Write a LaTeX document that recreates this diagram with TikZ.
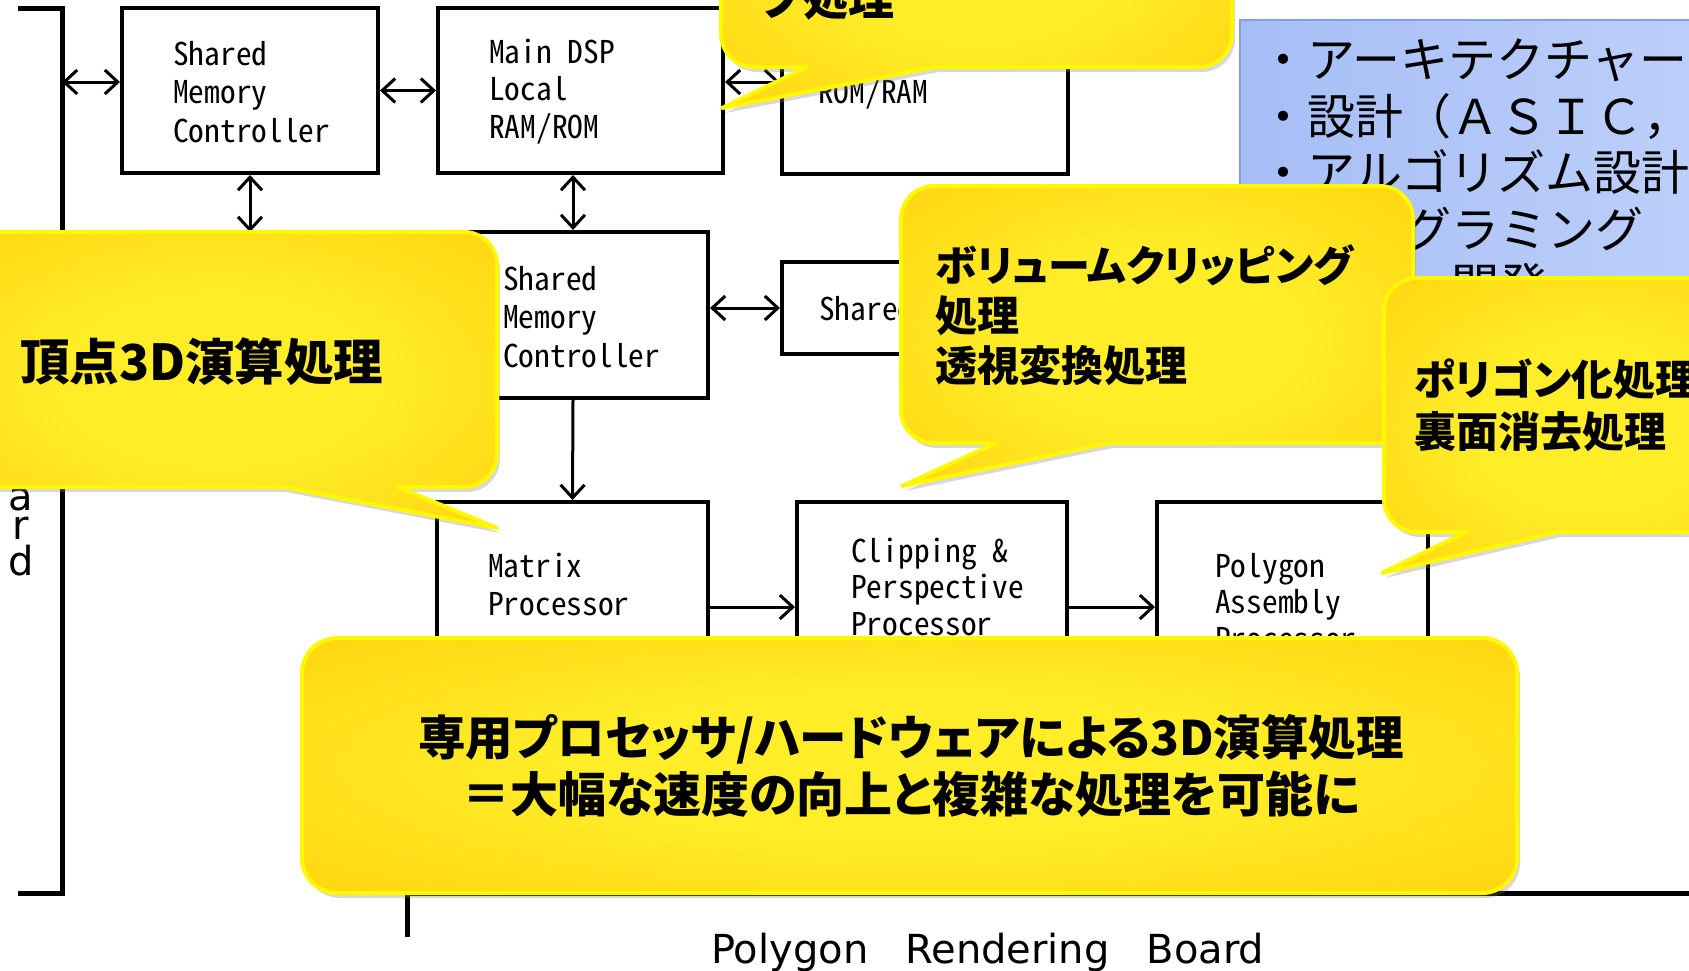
\documentclass[tikz,border=0pt]{standalone}
\usepackage{fontspec}
\usetikzlibrary{arrows.meta,shadows}
\newfontfamily\jpcall[RawFeature=+palt]{Noto Sans CJK JP}
\newfontfamily\jpreg{Noto Sans CJK JP}
\IfFontExistsTF{Noto Sans Mono CJK JP}{\newfontfamily\boxfont{Noto Sans Mono CJK JP}}{\newfontfamily\boxfont[FakeStretch=0.83]{DejaVu Sans Mono}}
\newfontfamily\latinsans{DejaVu Sans}
\definecolor{cIn}{RGB}{255,237,40}
\definecolor{cOut}{RGB}{255,198,0}
\definecolor{cEdge}{RGB}{255,248,0}
\definecolor{blueL}{RGB}{166,190,246}
\definecolor{blueR}{RGB}{192,210,251}
\definecolor{blueEdge}{RGB}{130,160,225}
\pgfdeclareradialshading{callshade}{\pgfpoint{0bp}{0bp}}{color(0bp)=(cIn); color(14bp)=(cIn); color(50bp)=(cOut); color(75bp)=(cOut)}
\tikzset{
  blk/.style={draw=black, line width=4pt, fill=white, inner sep=0pt},
  tipbarb/.tip={Straight Barb[length=13pt,width=24pt,line width=3pt]},
  arr/.style={line width=3pt, -tipbarb},
  darr/.style={line width=3pt, tipbarb-tipbarb},
  brk/.style={line width=5pt},
  callout/.style={draw=cEdge, line width=4pt, line join=round, shading=callshade,
    drop shadow={shadow xshift=3pt, shadow yshift=-5pt, opacity=0.3}},
  btxt/.style={font=\boxfont\fontsize{31.4}{38}\selectfont, anchor=base west, inner sep=0pt},
  ctxt/.style={font=\jpcall\bfseries\fontsize{42}{50}\selectfont, anchor=base west, inner sep=0pt},
  bltxt/.style={font=\jpreg\fontsize{48}{56}\selectfont, anchor=base west, inner sep=0pt},
  ltxt/.style={font=\latinsans\fontsize{40}{48}\selectfont, inner sep=0pt},
}
\newcommand\calloutshape[8]{%
  \path[callout] (#1+33,#2) -- (#3-33,#2) arc[start angle=-90,end angle=0,radius=33]
    -- (#3,#4-33) arc[start angle=0,end angle=90,radius=33]
    -- (#5,#4) -- (#6,#7) -- (#8,#4)
    -- (#1+33,#4) arc[start angle=90,end angle=180,radius=33]
    -- (#1,#2+33) arc[start angle=180,end angle=270,radius=33] -- cycle;}
\begin{document}
\begin{tikzpicture}[x=1pt,y=-1pt]
\fill[white] (0,0) rectangle (1689,970);
\useasboundingbox (0,0) rectangle (1689,970);

% brackets
\draw[brk] (18,8) -- (62,8) -- (62,893) -- (18,893);
\draw[brk] (407,937) -- (407,893) -- (1720,893);

% boxes
\node[blk, minimum width=256pt, minimum height=165pt] (smc1) at (250,90.5) {};
\node[blk, minimum width=285pt, minimum height=165pt] (dsp) at (580.5,90.5) {};
\node[blk, minimum width=286pt, minimum height=166pt] (rom) at (925,91) {};
\node[blk, minimum width=270pt, minimum height=166pt] (smc2) at (573,315) {};
\node[blk, minimum width=218pt, minimum height=92pt] (share) at (891,308) {};
\node[blk, minimum width=271pt, minimum height=218pt] (mat) at (572.5,611) {};
\node[blk, minimum width=270pt, minimum height=218pt] (clip) at (932,611) {};
\node[blk, minimum width=271pt, minimum height=218pt] (poly) at (1292.5,611) {};

% connectors
\coordinate (lb) at (62,82);
\coordinate (r3) at (0,82);
\coordinate (hid) at (250,232);
\coordinate (rowc) at (0,607);
\draw[darr] (lb) -- (smc1.west |- lb);
\draw[darr] (smc1.east) -- (dsp.east -| dsp.west);
\draw[darr] (dsp.east |- r3) -- (rom.west |- r3);
\draw[darr] (smc1.south) -- (hid);
\draw[darr] (dsp.south -| smc2.north) -- (smc2.north);
\draw[darr] (smc2.east |- share.west) -- (share.west);
\draw[arr] (smc2.south) -- (mat.north);
\draw[arr] (mat.east |- rowc) -- (clip.west |- rowc);
\draw[arr] (clip.east |- rowc) -- (poly.west |- rowc);

% box texts
\node[btxt] (t1a) at (173,65) {Shared};
\node[btxt] (t1b) at (173,103) {Memory};
\node[btxt] (t1c) at (173,142) {Controller};
\node[btxt] (t2a) at (489,63) {Main DSP};
\node[btxt] (t2b) at (489,100) {Local};
\node[btxt] (t2c) at (489,138) {RAM/ROM};
\node[btxt] (t3a) at (818,103) {ROM/RAM};
\node[btxt] (t4a) at (503,290) {Shared};
\node[btxt] (t4b) at (503,328) {Memory};
\node[btxt] (t4c) at (503,367) {Controller};
\node[btxt] (t5a) at (819,320) {Shared};
\node[btxt] (t6a) at (488,577) {Matrix};
\node[btxt] (t6b) at (488,615) {Processor};
\node[btxt] (t7a) at (851,562) {Clipping \&};
\node[btxt] (t7b) at (851,598) {Perspective};
\node[btxt] (t7c) at (851,635) {Processor};
\node[btxt] (t8a) at (1215,577) {Polygon};
\node[btxt] (t8b) at (1215,613) {Assembly};
\node[btxt] (t8c) at (1215,650) {Processor};

% side / bottom labels
\node[ltxt, anchor=base, text height=22pt, text depth=0pt] (la) at (21,510) {a};
\node[ltxt, anchor=base, text height=20pt, text depth=0pt] (lr) at (21,539) {r};
\node[ltxt, anchor=base, text height=30pt, text depth=0pt] (ld) at (21,575) {d};
\node[ltxt, anchor=base west] (prb) at (711,963) {Polygon\hspace{37pt}Rendering\hspace{37pt}Board};

% blue box
\path[draw=blueEdge, line width=1.5pt, left color=blueL, right color=blueR] (1240,20) rectangle (1760,430);
\node[bltxt] (bl1) at (1259,77) {・アーキテクチャー};
\node[bltxt] (bl2) at (1259,134) {・設計（ＡＳＩＣ，};
\node[bltxt] (bl3) at (1259,190) {・アルゴリズム設計};
\node[bltxt] (bl4) at (1259,247) {・プログラミング};
\node[bltxt] (bl5) at (1403,303) {・開発};

% callout A (top)
\calloutshape{721}{-200}{1232}{67}{936}{722}{108}{807}
\node[ctxt, font=\jpcall\bfseries\fontsize{46}{50}\selectfont, anchor=base east] (ca) at (895,15) {プ処理};

% callout B
\calloutshape{-60}{232}{497}{487}{398}{497}{528}{283}
\node[ctxt, font=\jpcall\bfseries\fontsize{49.5}{56}\selectfont] (cb) at (20,380) {頂点3D演算処理};

% callout C
\calloutshape{901}{186}{1413}{443}{1110}{902}{486}{996}
\node[ctxt] (cc1) at (935,281) {ボリュームクリッピング};
\node[ctxt] (cc2) at (935,331) {処理};
\node[ctxt] (cc3) at (935,381) {透視変換処理};

% callout D
\calloutshape{1384}{278}{1800}{532}{1558}{1382}{573}{1466}
\node[ctxt] (cd1) at (1414,395) {ポリゴン化処理};
\node[ctxt] (cd2) at (1414,447) {裏面消去処理};

% callout E (bottom)
\path[callout, rounded corners=35] (302,638) rectangle (1517,893);
\node[ctxt, font=\jpcall\bfseries\fontsize{47.5}{56}\selectfont, anchor=base] (ce1) at (911,755) {専用プロセッサ/ハードウェアによる3D演算処理};
\node[ctxt, font=\jpcall\bfseries\fontsize{48}{56}\selectfont, anchor=base] (ce2) at (911,812) {＝大幅な速度の向上と複雑な処理を可能に};
\end{tikzpicture}
\end{document}
